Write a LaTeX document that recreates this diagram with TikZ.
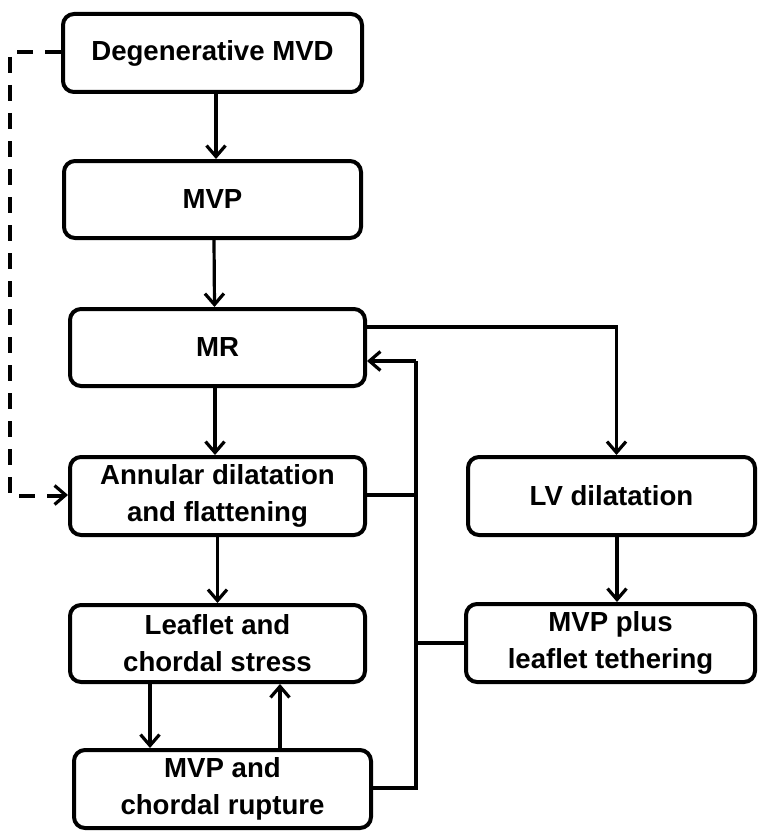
\documentclass[tikz,border=0pt]{standalone}
\usepackage{fontspec}
\setmainfont{Liberation Sans}
\usetikzlibrary{arrows.meta}
\begin{document}
\begin{tikzpicture}[x=1pt,y=-1pt,
  box/.style={draw, line width=4pt, rounded corners=11pt, align=center, inner sep=0pt,
    font=\bfseries\fontsize{27.6}{37}\selectfont},
  conn/.style={line width=3.2pt},
  arr/.style={conn, -{Straight Barb[length=11pt,width=19pt,line width=3.2pt]}},
  dsh/.style={conn, dash pattern=on 16pt off 12pt}]
\useasboundingbox (0,0) rectangle (758,832);
\node[box, minimum width=299pt, minimum height=78pt] (deg) at (212.5,53) {Degenerative MVD};
\node[box, minimum width=297pt, minimum height=77pt] (mvp) at (212.5,199.5) {MVP};
\node[box, minimum width=295pt, minimum height=77pt] (mr) at (217.5,347.5) {MR};
\node[box, minimum width=295pt, minimum height=78pt] (ann) at (217.5,496) {Annular dilatation\\and flattening};
\node[box, minimum width=287pt, minimum height=78pt] (lv) at (611.5,496) {LV dilatation};
\node[box, minimum width=295pt, minimum height=77pt] (leaf) at (217.5,643.5) {Leaflet and\\chordal stress};
\node[box, minimum width=297pt, minimum height=78pt] (rup) at (222.5,789) {MVP and\\chordal rupture};
\node[box, minimum width=289pt, minimum height=78pt] (plus) at (610.5,643) {MVP plus\\leaflet tethering};
\coordinate (busTop) at (416,361);
\coordinate (busBot) at (416,788);
\coordinate (dashL) at (10,52);
% main chain
\draw[arr] ([xshift=3.5pt]deg.south) -- ([xshift=3.5pt]mvp.north);
\draw[arr] ([xshift=1.5pt]mvp.south) -- ([xshift=-3pt]mr.north);
\draw[arr] ([xshift=-2.5pt]mr.south) -- ([xshift=-2.5pt]ann.north);
\draw[arr] (ann.south) -- (leaf.north);
\draw[arr] (leaf.south -| 150,0) -- (rup.north -| 150,0);
\draw[arr] (rup.north -| 280,0) -- (leaf.south -| 280,0);
% right branch
\draw[arr] ([yshift=20.5pt]mr.east) -| ([xshift=5pt]lv.north);
\draw[arr] ([xshift=5.5pt]lv.south) -- ([xshift=6.5pt]plus.north);
% feedback bus
\draw[conn] ([yshift=1pt]ann.east) -- ([yshift=1pt]ann.east -| busTop);
\draw[conn] (plus.west) -- (plus.west -| busTop);
\draw[conn, line join=miter] ([yshift=1pt]rup.east) -- (busBot) -- (busTop);
\draw[arr] (busTop) -- (busTop -| mr.east);
% dashed
\draw[dsh] ([yshift=1pt]deg.west) -- (dashL) -- (dashL |- ann.west) -- (ann.west);
\draw[arr, dash pattern=on 0pt off 1pt] ([xshift=-16pt,yshift=1pt]ann.west) -- ([yshift=1pt]ann.west);
\end{tikzpicture}
\end{document}
